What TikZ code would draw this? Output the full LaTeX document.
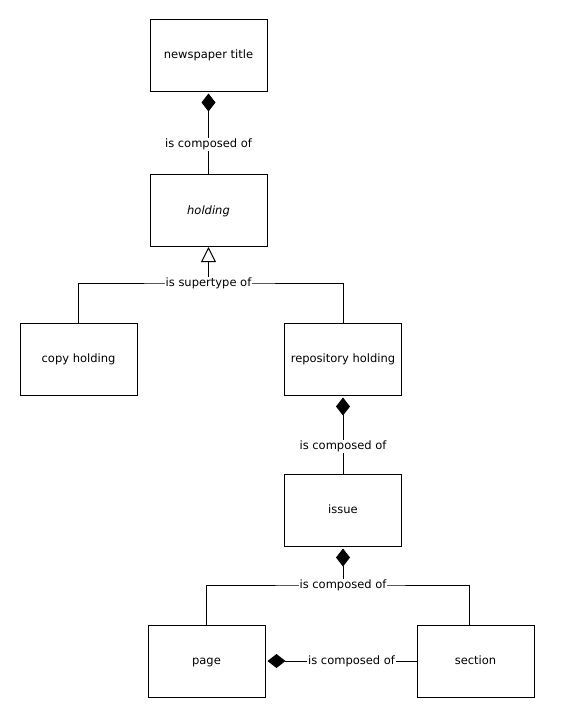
\documentclass[tikz,border=0pt]{standalone}
\usepackage{fontspec}
\setmainfont{DejaVu Sans}
\usetikzlibrary{arrows.meta}
\begin{document}
\begin{tikzpicture}[x=1pt,y=-1pt,
  line width=1pt,
  box/.style={draw,rectangle,minimum width=117pt,minimum height=72pt,inner sep=0pt,text height=8.5pt,text depth=1.5pt,font=\fontsize{11.5}{13}\selectfont},
  lbl/.style={fill=white,inner sep=1pt,text height=8.5pt,text depth=2.5pt,font=\fontsize{11.5}{13}\selectfont},
  comp/.style={-{Diamond[length=18pt,width=14pt,fill=black]},shorten >=2pt},
  isa/.style={-{Triangle[open,length=15pt,width=15pt,fill=white]}}
]
\useasboundingbox (0,0) rectangle (562,721);
\node[box] (title) at (208.5,55) {newspaper title};
\node[box] (holding) at (208.5,210.5) {\itshape holding};
\node[box] (copy) at (78.5,359) {copy holding};
\node[box] (repo) at (343,359) {repository holding};
\node[box] (issue) at (343,510) {issue};
\node[box] (page) at (206.5,661) {page};
\node[box] (section) at (475.5,661) {section};

\coordinate (j1) at (208.5,283);
\coordinate (j2) at (343,585);
\coordinate (sectop) at ([xshift=-6.5pt]section.north);

\draw[comp] (holding.north) -- node[lbl,pos=0.36]{is composed of} (title.south);

\draw (copy.north) |- (j1) -| (repo.north);
\draw[isa] (j1) -- (holding.south);
\node[lbl] (l1) at (j1) {is supertype of};

\draw[comp] (issue.north) -- node[lbl,pos=0.34]{is composed of} (repo.south);

\draw (page.north) |- (j2) -| (sectop);
\draw[comp] (j2) -- (issue.south);
\node[lbl] (l2) at (j2) {is composed of};

\draw[comp] (section.west) -- node[lbl,pos=0.43]{is composed of} (page.east);
\end{tikzpicture}
\end{document}
